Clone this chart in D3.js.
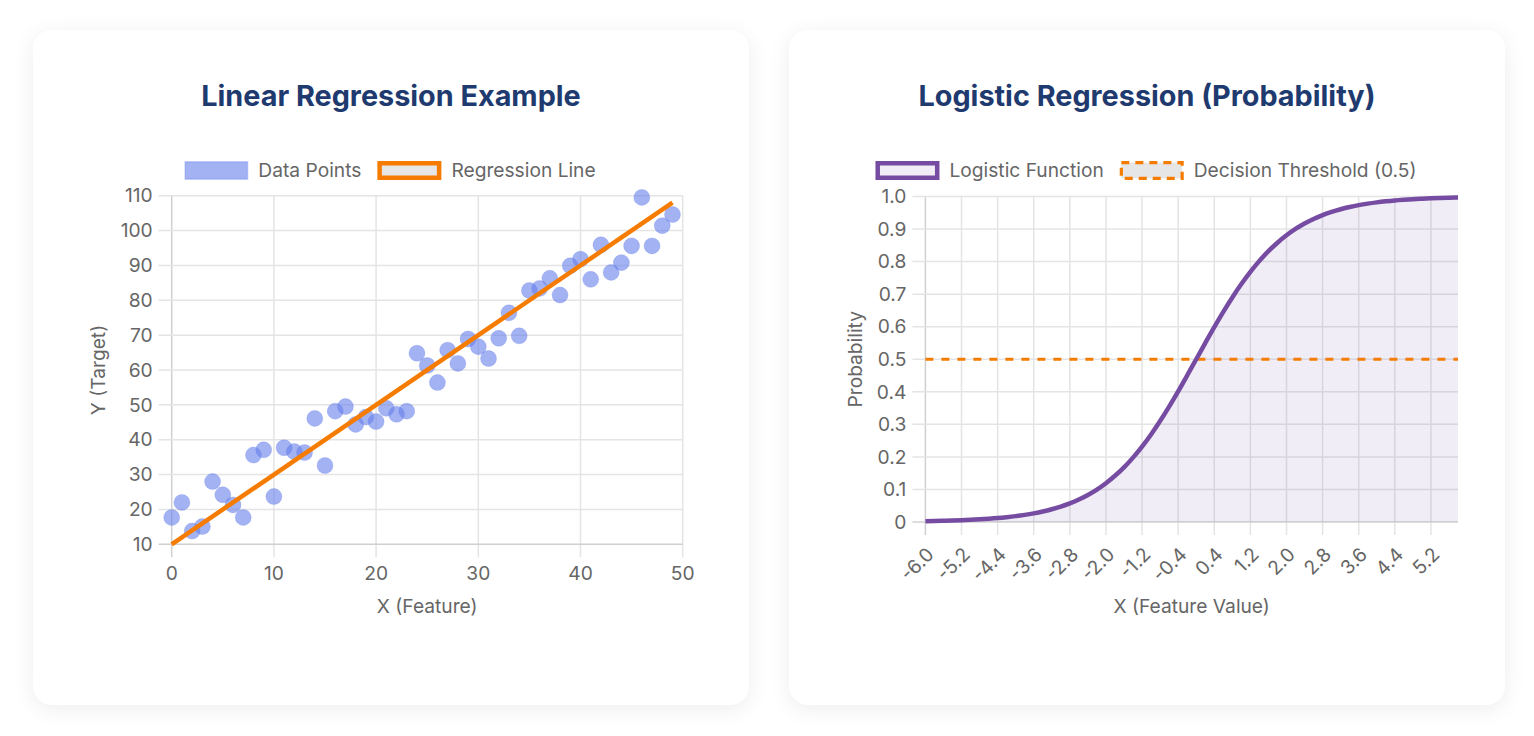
<!DOCTYPE html>
<html>
<head>
<meta charset="utf-8">
<script src="https://cdn.jsdelivr.net/npm/d3@7/dist/d3.min.js"></script>
<style>
  html, body { margin: 0; padding: 0; background: #ffffff; }
  svg { display: block; font-family: Inter, "Noto Sans", sans-serif; }
</style>
</head>
<body>
<svg id="chart" width="1534" height="736"></svg>
<script>
// ---------- DATA ----------
const linearTitle = "Linear Regression Example";
const logisticTitle = "Logistic Regression (Probability)";

const pointX = [0,1,2,3,4,5,6,7,8,9,10,11,12,13,14,15,16,17,18,19,20,21,22,23,24,25,26,27,28,29,30,31,32,33,34,35,36,37,38,39,40,41,42,43,44,45,46,47,48,49];
const pointY = [17.7,22.0,13.8,15.1,28.0,24.2,21.3,17.7,35.6,37.1,23.7,37.7,36.6,36.3,46.1,32.6,48.2,49.5,44.4,46.5,45.2,49.0,47.3,48.2,64.8,61.3,56.4,65.7,61.9,68.9,66.7,63.3,69.1,76.4,69.8,82.8,83.4,86.3,81.5,89.9,91.8,86.0,95.9,88.0,90.8,95.6,109.5,95.6,101.4,104.6];
const regressionX = [0, 49];
const regressionY = [10, 108];
const linXTicks = [0,10,20,30,40,50];
const linYTicks = [10,20,30,40,50,60,70,80,90,100,110];

const logXLabels = ["-6.0","-5.8","-5.6","-5.4","-5.2","-5.0","-4.8","-4.6","-4.4","-4.2","-4.0","-3.8","-3.6","-3.4","-3.2","-3.0","-2.8","-2.6","-2.4","-2.2","-2.0","-1.8","-1.6","-1.4","-1.2","-1.0","-0.8","-0.6","-0.4","-0.2","0.0","0.2","0.4","0.6","0.8","1.0","1.2","1.4","1.6","1.8","2.0","2.2","2.4","2.6","2.8","3.0","3.2","3.4","3.6","3.8","4.0","4.2","4.4","4.6","4.8","5.0","5.2","5.4","5.6","5.8"];
const logProb = [0.0025,0.0030,0.0037,0.0045,0.0055,0.0067,0.0082,0.0100,0.0121,0.0148,0.0180,0.0219,0.0266,0.0323,0.0392,0.0474,0.0573,0.0691,0.0832,0.0998,0.1192,0.1419,0.1680,0.1978,0.2315,0.2689,0.3100,0.3543,0.4013,0.4502,0.5000,0.5498,0.5987,0.6457,0.6900,0.7311,0.7685,0.8022,0.8320,0.8581,0.8808,0.9002,0.9168,0.9309,0.9427,0.9526,0.9608,0.9677,0.9734,0.9781,0.9820,0.9852,0.9879,0.9900,0.9918,0.9933,0.9945,0.9955,0.9963,0.9970];
const thresholdLevel = 0.5;
const logYTicks = [0,0.1,0.2,0.3,0.4,0.5,0.6,0.7,0.8,0.9,1.0];
const logYTickLabels = ["0","0.1","0.2","0.3","0.4","0.5","0.6","0.7","0.8","0.9","1.0"];
const logLabelEvery = 4;

// ---------- STYLE ----------
const C = {
  title: "#1e3a6f", text: "#666666", grid: "#e4e4e4", axis: "#d0d0d0",
  point: "rgba(102,126,234,0.6)", orange: "#f57c00",
  purple: "#764ba2", purpleFill: "rgba(118,75,162,0.1)", boxGrey: "#e6e6e6"
};
const FS = 19.2, TICK = 13;

const svg = d3.select("#chart");
const defs = svg.append("defs");
const f = defs.append("filter").attr("id","shadow").attr("x","-10%").attr("y","-10%").attr("width","120%").attr("height","120%");
f.append("feDropShadow").attr("dx",0).attr("dy",4).attr("stdDeviation",10).attr("flood-color","#000").attr("flood-opacity",0.07);

const cards = [{x:33,y:30,w:716,h:675},{x:789,y:30,w:716,h:675}];
cards.forEach(c => svg.append("rect").attr("x",c.x).attr("y",c.y).attr("width",c.w).attr("height",c.h)
  .attr("rx",20).attr("fill","#fff").attr("filter","url(#shadow)"));

function title(cx, txt) {
  svg.append("text").attr("x",cx).attr("y",106).attr("text-anchor","middle")
    .attr("font-size",28.8).attr("font-weight",700).attr("fill",C.title).text(txt);
}
title(391, linearTitle);
title(1147, logisticTitle);

function legend(cx, items) {
  const g = svg.append("g");
  const boxW = 64, boxH = 19, gapT = 10, gapI = 16;
  let x = 0;
  items.forEach(it => {
    const b = g.append("rect").attr("x",x + it.sw/2).attr("y",161 + it.sw/2)
      .attr("width",boxW - it.sw).attr("height",boxH - it.sw)
      .attr("fill",it.fill).attr("stroke",it.stroke).attr("stroke-width",it.sw);
    if (it.dash) b.attr("stroke-dasharray",it.dash);
    const t = g.append("text").attr("x",x + boxW + gapT).attr("y",170.5).attr("dy","0.35em")
      .attr("font-size",FS).attr("fill",C.text).text(it.label);
    x += boxW + gapT + t.node().getComputedTextLength() + gapI;
  });
  const total = x - gapI;
  g.attr("transform",`translate(${cx - total/2},0)`);
}
legend(390, [
  {label:"Data Points", fill:C.point, stroke:"rgba(102,126,234,0.3)", sw:1.5},
  {label:"Regression Line", fill:C.boxGrey, stroke:C.orange, sw:4.5}
]);
legend(1146, [
  {label:"Logistic Function", fill:C.purpleFill, stroke:C.purple, sw:4.5},
  {label:"Decision Threshold (0.5)", fill:C.boxGrey, stroke:C.orange, sw:3.2, dash:"8,6"}
]);

// ---------- LINEAR CHART ----------
{
  const L = 171.7, R = 682.7, T = 195.7, B = 544.3;
  const x = d3.scaleLinear().domain([0,50]).range([L,R]);
  const y = d3.scaleLinear().domain([10,110]).range([B,T]);
  const g = svg.append("g");
  g.selectAll(".vg").data(linXTicks).join("line")
    .attr("x1",d=>x(d)).attr("x2",d=>x(d)).attr("y1",T).attr("y2",B+TICK)
    .attr("stroke",d=>d===0?C.axis:C.grid).attr("stroke-width",1.5);
  g.selectAll(".hg").data(linYTicks).join("line")
    .attr("x1",L-TICK).attr("x2",R).attr("y1",d=>y(d)).attr("y2",d=>y(d))
    .attr("stroke",d=>d===10?C.axis:C.grid).attr("stroke-width",1.5);
  g.selectAll(".xt").data(linXTicks).join("text")
    .attr("x",d=>x(d)).attr("y",B+29).attr("dy","0.35em").attr("text-anchor","middle")
    .attr("font-size",FS).attr("fill",C.text).text(d=>d);
  g.selectAll(".yt").data(linYTicks).join("text")
    .attr("x",L-TICK-6).attr("y",d=>y(d)).attr("dy","0.35em").attr("text-anchor","end")
    .attr("font-size",FS).attr("fill",C.text).text(d=>d);
  g.append("text").attr("x",(L+R)/2).attr("y",606).attr("dy","0.35em").attr("text-anchor","middle")
    .attr("font-size",FS).attr("fill",C.text).text("X (Feature)");
  g.append("text").attr("transform",`translate(98,${(T+B)/2}) rotate(-90)`).attr("dy","0.35em")
    .attr("text-anchor","middle").attr("font-size",FS).attr("fill",C.text).text("Y (Target)");
  g.selectAll(".pt").data(pointX.map((d,i)=>[d,pointY[i]])).join("circle")
    .attr("cx",d=>x(d[0])).attr("cy",d=>y(d[1])).attr("r",8)
    .attr("fill",C.point).attr("stroke","rgba(102,126,234,0.25)").attr("stroke-width",1);
  g.append("path").datum(regressionX.map((d,i)=>[d,regressionY[i]]))
    .attr("d",d3.line().x(d=>x(d[0])).y(d=>y(d[1])))
    .attr("fill","none").attr("stroke",C.orange).attr("stroke-width",4.5);
}

// ---------- LOGISTIC CHART ----------
{
  const L = 925.4, R = 1458, T = 196.5, B = 522;
  const x = d3.scalePoint().domain(d3.range(logXLabels.length)).range([L,R]);
  const y = d3.scaleLinear().domain([0,1]).range([B,T]);
  const g = svg.append("g");
  const shown = d3.range(logXLabels.length).filter(i => i % logLabelEvery === 0);
  g.selectAll(".vg").data(shown).join("line")
    .attr("x1",d=>x(d)).attr("x2",d=>x(d)).attr("y1",T).attr("y2",B+TICK)
    .attr("stroke",d=>d===0?C.axis:C.grid).attr("stroke-width",1.5);
  g.selectAll(".hg").data(logYTicks).join("line")
    .attr("x1",L-TICK).attr("x2",R).attr("y1",d=>y(d)).attr("y2",d=>y(d))
    .attr("stroke",d=>d===0?C.axis:C.grid).attr("stroke-width",1.5);
  g.selectAll(".xt").data(shown).join("text")
    .attr("transform",d=>`translate(${x(d)+5},${B+29}) rotate(-45)`)
    .attr("dy","0.35em").attr("text-anchor","end")
    .attr("font-size",FS).attr("fill",C.text).text(d=>logXLabels[d]);
  g.selectAll(".yt").data(logYTicks).join("text")
    .attr("x",L-TICK-6).attr("y",d=>y(d)).attr("dy","0.35em").attr("text-anchor","end")
    .attr("font-size",FS).attr("fill",C.text).text((d,i)=>logYTickLabels[i]);
  g.append("text").attr("x",(L+R)/2).attr("y",606).attr("dy","0.35em").attr("text-anchor","middle")
    .attr("font-size",FS).attr("fill",C.text).text("X (Feature Value)");
  g.append("text").attr("transform",`translate(855,${(T+B)/2}) rotate(-90)`).attr("dy","0.35em")
    .attr("text-anchor","middle").attr("font-size",FS).attr("fill",C.text).text("Probability");
  const data = logProb.map((p,i)=>[i,p]);
  g.append("path").datum(data)
    .attr("d",d3.area().x(d=>x(d[0])).y0(y(0)).y1(d=>y(d[1])).curve(d3.curveMonotoneX))
    .attr("fill",C.purpleFill);
  g.append("line").attr("x1",x(0)).attr("x2",x(logXLabels.length-1))
    .attr("y1",y(thresholdLevel)).attr("y2",y(thresholdLevel))
    .attr("stroke",C.orange).attr("stroke-width",3).attr("stroke-dasharray","8,8");
  g.append("path").datum(data)
    .attr("d",d3.line().x(d=>x(d[0])).y(d=>y(d[1])).curve(d3.curveMonotoneX))
    .attr("fill","none").attr("stroke",C.purple).attr("stroke-width",4.5);
}
</script>
</body>
</html>
